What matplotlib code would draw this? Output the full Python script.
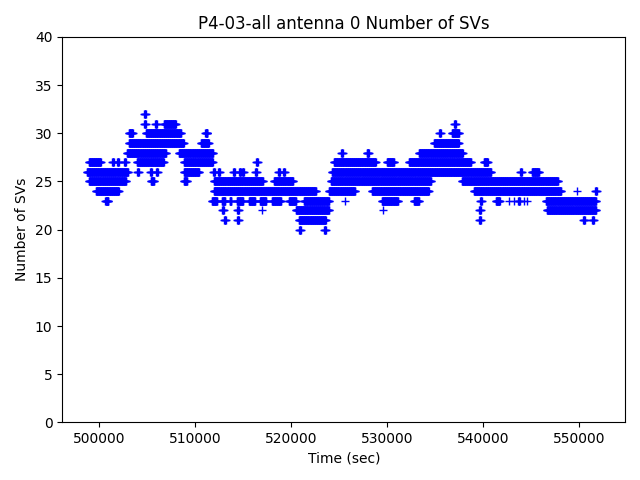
import numpy as np
import matplotlib
matplotlib.use("Agg")
import matplotlib.pyplot as plt

# Observed spans (start_sec, end_sec) where each SV count appears
runs_32 = [(504700, 504820)]
runs_31 = [(504700, 504820), (505850, 505970), (506740, 507990), (536990, 537110)]
runs_30 = [(503094, 503510), (504865, 508511), (511060, 511280), (535430, 535550),
           (536741, 537470)]
runs_29 = [(503094, 508823), (510594, 511427), (534866, 537470)]
runs_28 = [(502885, 506948), (508302, 511844), (525220, 525340), (527886, 528094),
           (533303, 537887)]
runs_27 = [(498927, 500177), (501370, 501490), (501890, 502010), (502620, 502740),
           (503927, 506740), (508823, 511844), (516370, 516490), (524449, 528824),
           (529970, 530699), (532261, 538720), (540074, 540491)]
runs_26 = [(498719, 502990), (503970, 504090), (505330, 505450), (505950, 506070),
           (508823, 510386), (511890, 512010), (512410, 512530), (513970, 514090),
           (514600, 514720), (514910, 515030), (516260, 516380), (518660, 518780),
           (519180, 519300), (524240, 540803), (543870, 543990), (545075, 545804)]
runs_25 = [(498927, 502781), (505386, 505698), (508823, 509136), (511948, 517053),
           (518198, 520178), (524136, 534553), (537783, 547783)]
runs_24 = [(499656, 502052), (511948, 522574), (523928, 526636), (528407, 534345),
           (539033, 548095), (549762, 549762), (551680, 551800)]
runs_23 = [(500640, 500960), (511740, 512260), (512800, 513120), (513600, 513750),
           (514340, 514970), (515590, 516220), (516740, 517370), (517990, 518930),
           (519760, 520490), (521330, 523928), (525595, 525595), (529449, 531116),
           (532782, 533303), (539700, 539820), (541324, 541741), (542678, 542678),
           (543199, 543199), (543660, 543780), (544241, 544241), (544553, 544553),
           (546533, 551741)]
runs_22 = [(512830, 512950), (514390, 514510), (516948, 516948), (520490, 523928),
           (529553, 529553), (539600, 539720), (546637, 551741)]
runs_21 = [(513030, 513150), (514390, 514510), (520803, 523615), (539600, 539720),
           (550430, 550550), (551370, 551490)]
runs_20 = [(520850, 520970), (523450, 523570)]

levels = [32, 31, 30, 29, 28, 27, 26, 25, 24, 23, 22, 21, 20]
all_runs = [runs_32, runs_31, runs_30, runs_29, runs_28, runs_27, runs_26,
            runs_25, runs_24, runs_23, runs_22, runs_21, runs_20]

t_list, n_list = [], []
for lvl, runs in zip(levels, all_runs):
    for s, e in runs:
        ts = np.arange(s, e + 1, 30)
        t_list.append(ts)
        n_list.append(np.full(ts.shape, lvl))
t = np.concatenate(t_list)
n = np.concatenate(n_list)

fig = plt.figure(figsize=(6.4, 4.8), dpi=100)
ax = fig.add_subplot(111)
fig.subplots_adjust(left=0.0973, right=0.977, bottom=0.120, top=0.923)
ax.plot(t, n, 'b+', linestyle='none')
ax.set_xlim(496146, 554792)
ax.set_ylim(0, 40)
ax.set_xticks([500000, 510000, 520000, 530000, 540000, 550000])
ax.set_title("P4-03-all antenna 0 Number of SVs")
ax.set_xlabel("Time (sec)")
ax.set_ylabel("Number of SVs")
fig.savefig("out.png", dpi=100)
